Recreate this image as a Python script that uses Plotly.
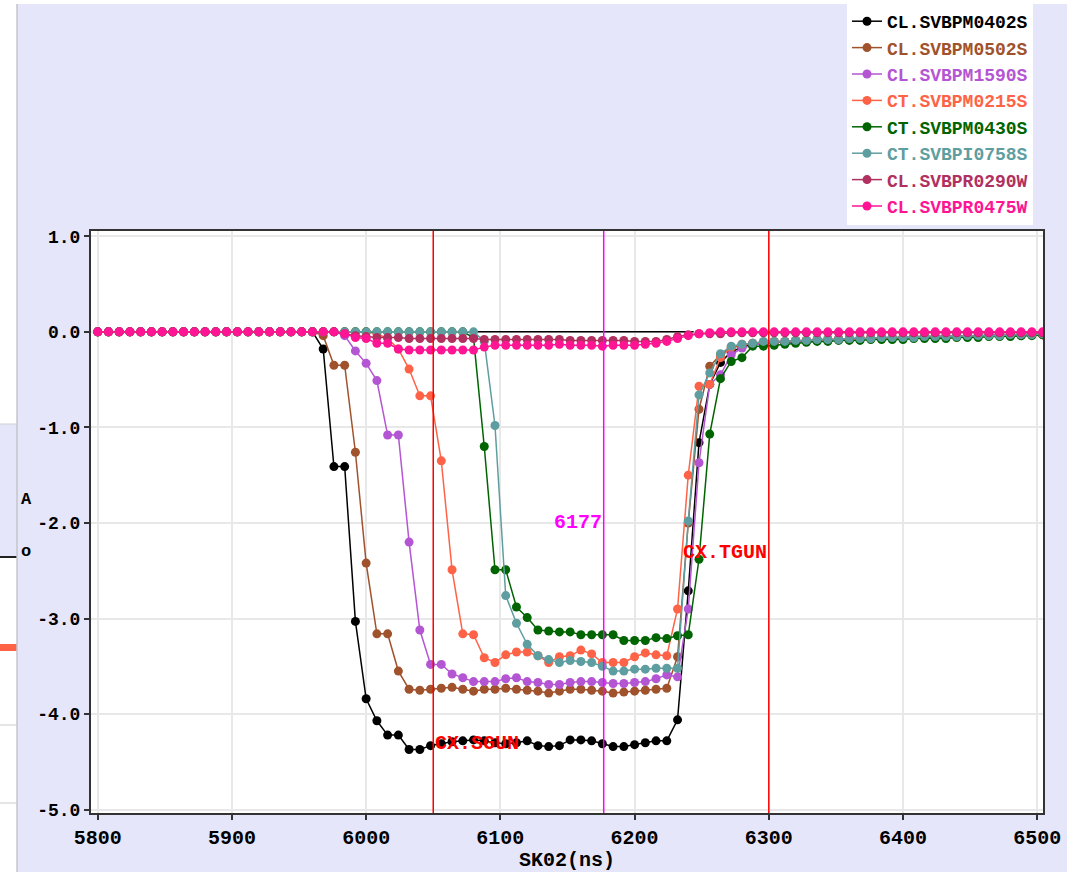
import plotly.graph_objects as go

# ---------------- data ----------------
x_ns = list(range(5800, 6505, 8))  # sample times (ns)

series_names = ["CL.SVBPM0402S", "CL.SVBPM0502S", "CL.SVBPM1590S", "CT.SVBPM0215S",
                "CT.SVBPM0430S", "CT.SVBPI0758S", "CL.SVBPR0290W", "CL.SVBPR0475W"]

v_0402S = [0.0] * 21 + [
    -0.18, -1.41, -1.41, -3.03, -3.84, -4.07, -4.22, -4.22, -4.37, -4.37,
    -4.33, -4.31, -4.29, -4.28, -4.27, -4.28, -4.30, -4.31, -4.30, -4.28,
    -4.33, -4.34, -4.33, -4.27, -4.27, -4.28, -4.31, -4.34, -4.34, -4.32,
    -4.30, -4.28, -4.28, -4.06, -2.71, -1.16, -0.55, -0.32, -0.21, -0.16,
    -0.13, -0.12, -0.11, -0.11, -0.10, -0.10, -0.09, -0.09, -0.08, -0.08,
    -0.08, -0.07, -0.07, -0.07, -0.06, -0.06, -0.06, -0.06, -0.05, -0.05,
    -0.05, -0.05, -0.04, -0.04, -0.04, -0.04, -0.03, -0.03]

v_0502S = [0.0] * 21 + [
    -0.04, -0.35, -0.35, -1.26, -2.42, -3.16, -3.16, -3.55, -3.74, -3.75,
    -3.74, -3.73, -3.72, -3.74, -3.76, -3.74, -3.74, -3.73, -3.74, -3.75,
    -3.76, -3.78, -3.76, -3.74, -3.74, -3.75, -3.76, -3.78, -3.77, -3.76,
    -3.75, -3.74, -3.73, -3.40, -2.00, -0.81, -0.36, -0.24, -0.17, -0.14,
    -0.12, -0.11, -0.10, -0.10, -0.09, -0.09, -0.08, -0.08, -0.08, -0.07,
    -0.07, -0.07, -0.06, -0.06, -0.06, -0.05, -0.05, -0.05, -0.05, -0.04,
    -0.04, -0.04, -0.04, -0.03, -0.03, -0.03, -0.03, -0.03]

v_1590S = [0.0] * 23 + [
    -0.04, -0.20, -0.33, -0.51, -1.08, -1.08, -2.20, -3.12,
    -3.48, -3.48, -3.58, -3.62, -3.66, -3.66, -3.66, -3.63, -3.62, -3.66,
    -3.67, -3.69, -3.69, -3.67, -3.66, -3.66, -3.67, -3.68, -3.68, -3.67,
    -3.66, -3.63, -3.59, -3.61, -2.90, -1.37, -0.55, -0.45, -0.24, -0.17,
    -0.14, -0.12, -0.11, -0.10, -0.10, -0.09, -0.09, -0.08, -0.08, -0.07,
    -0.07, -0.07, -0.06, -0.06, -0.06, -0.05, -0.05, -0.05, -0.04, -0.04,
    -0.04, -0.04, -0.03, -0.03, -0.03, -0.03, -0.02, -0.02]

v_0215S = [0.0] * 26 + [
    -0.02, -0.07, -0.18, -0.39, -0.67,
    -0.67, -1.35, -2.49, -3.16, -3.17, -3.41, -3.46, -3.38, -3.35, -3.35,
    -3.39, -3.46, -3.40, -3.39, -3.33, -3.37, -3.46, -3.46, -3.46, -3.40,
    -3.36, -3.38, -3.39, -2.90, -1.50, -0.57, -0.55, -0.27, -0.16, -0.13,
    -0.12, -0.11, -0.10, -0.10, -0.09, -0.09, -0.09, -0.08, -0.08, -0.08,
    -0.07, -0.07, -0.07, -0.06, -0.06, -0.06, -0.05, -0.05, -0.05, -0.05,
    -0.04, -0.04, -0.04, -0.04, -0.03, -0.03, -0.03, -0.03]

v_0430S = [0.0] * 35 + [
    -0.06, -1.20, -2.49, -2.49, -2.88, -2.99,
    -3.12, -3.13, -3.14, -3.14, -3.17, -3.17, -3.17, -3.17, -3.23, -3.23,
    -3.23, -3.20, -3.21, -3.18, -3.17, -2.38, -1.07, -0.49, -0.31, -0.27,
    -0.15, -0.15, -0.14, -0.13, -0.12, -0.11, -0.10, -0.10, -0.09, -0.09,
    -0.09, -0.08, -0.08, -0.08, -0.08, -0.07, -0.07, -0.07, -0.07, -0.06,
    -0.06, -0.06, -0.05, -0.05, -0.05, -0.04, -0.04, -0.03]

v_0758S = [0.0] * 36 + [
    -0.10, -0.98, -2.76, -3.05, -3.27,
    -3.39, -3.43, -3.46, -3.44, -3.45, -3.46, -3.50, -3.55, -3.55, -3.53,
    -3.53, -3.52, -3.52, -3.52, -1.98, -0.66, -0.43, -0.23, -0.15, -0.13,
    -0.12, -0.10, -0.10, -0.10, -0.09, -0.09, -0.08, -0.08, -0.08, -0.07,
    -0.07, -0.07, -0.06, -0.06, -0.06, -0.06, -0.05, -0.05, -0.05, -0.05,
    -0.04, -0.04, -0.04, -0.04, -0.03, -0.03, -0.03, -0.02]

v_0290W = [0.0] * 23 + [
    -0.02, -0.04, -0.05, -0.06, -0.06, -0.06, -0.07, -0.07,
    -0.07, -0.07, -0.07, -0.07, -0.07, -0.08, -0.08, -0.08, -0.08, -0.08,
    -0.08, -0.08, -0.08, -0.09, -0.09, -0.09, -0.09, -0.09, -0.09, -0.10,
    -0.10, -0.10, -0.08, -0.05, -0.03, -0.02, -0.02, -0.02, -0.01, -0.01] + [-0.01] * 28

v_0475W = [0.0] * 23 + [
    -0.02, -0.06, -0.07, -0.12, -0.12, -0.18, -0.19, -0.19,
    -0.19, -0.19, -0.19, -0.19, -0.19, -0.16, -0.14, -0.14, -0.14, -0.14,
    -0.14, -0.14, -0.13, -0.14, -0.14, -0.14, -0.15, -0.14, -0.14, -0.14,
    -0.13, -0.12, -0.10, -0.07, -0.04, -0.02, -0.01, 0.00, 0.00, 0.00] + [0.0] * 28

series_values = [v_0402S, v_0502S, v_1590S, v_0215S, v_0430S, v_0758S, v_0290W, v_0475W]

zero_seg_x = [6072, 6244]
zero_seg_y = [0.0, 0.0]

marker_lines = [("CX.SGUN", 6050), ("CX.TGUN", 6300)]
cursor_x = 6177

x_ticks = [5800, 5900, 6000, 6100, 6200, 6300, 6400, 6500]
y_ticks = [-5, -4, -3, -2, -1, 0, 1]
y_ticklabels = ["-5.0", "-4.0", "-3.0", "-2.0", "-1.0", "0.0", "1.0"]

# ---------------- style ----------------
colors = ["#000000", "#a0522d", "#b455d3", "#ff6347",
          "#006400", "#5f9ea0", "#b03060", "#ff1493"]
FONT = "Liberation Mono"
LAV = "#e6e6fa"

W, H = 1067, 872
L, R, T, B = 91, 1043, 231, 813
PW, PH = R - L, B - T


def px(xp):
    return (xp - L) / PW


def py(yp):
    return (B - yp) / PH


fig = go.Figure()

fig.add_trace(go.Scatter(x=zero_seg_x, y=zero_seg_y, mode="lines",
                         line=dict(color="#000000", width=1.5),
                         showlegend=False, hoverinfo="skip"))

for i, (nm, vals, c) in enumerate(zip(series_names, series_values, colors)):
    fig.add_trace(go.Scatter(
        x=x_ns, y=vals, mode="lines+markers",
        name=f'<span style="color:{c}">{nm}</span>',
        legendgroup=f"g{i}",
        line=dict(color=c, width=1.5),
        marker=dict(color=c, size=9),
    ))

shapes = []
# cursor / marker vertical lines
for _, xv in marker_lines:
    shapes.append(dict(type="line", xref="x", yref="paper", x0=xv, x1=xv, y0=0, y1=1,
                       line=dict(color="#ff0000", width=1.5), layer="above"))
shapes.append(dict(type="line", xref="x", yref="paper", x0=cursor_x, x1=cursor_x, y0=0, y1=1,
                   line=dict(color="#ff00ff", width=1.5), layer="above"))

# window-edge artefacts in the margins
shapes += [
    dict(type="rect", xref="paper", yref="paper", x0=px(0), x1=px(17), y0=py(872), y1=py(0),
         fillcolor="#ffffff", line=dict(width=0), layer="above"),
    dict(type="rect", xref="paper", yref="paper", x0=px(0), x1=px(W), y0=py(4), y1=py(0),
         fillcolor="#ffffff", line=dict(width=0), layer="above"),
    dict(type="rect", xref="paper", yref="paper", x0=px(0), x1=px(17), y0=py(557), y1=py(424),
         fillcolor=LAV, line=dict(width=0), layer="above"),
    dict(type="line", xref="paper", yref="paper", x0=px(0), x1=px(17), y0=py(424), y1=py(424),
         line=dict(color="#d0d0d8", width=1), layer="above"),
    dict(type="line", xref="paper", yref="paper", x0=px(0), x1=px(17), y0=py(557), y1=py(557),
         line=dict(color="#222222", width=2), layer="above"),
    dict(type="line", xref="paper", yref="paper", x0=px(0), x1=px(17), y0=py(725), y1=py(725),
         line=dict(color="#e6e6e6", width=2), layer="above"),
    dict(type="line", xref="paper", yref="paper", x0=px(0), x1=px(17), y0=py(803), y1=py(803),
         line=dict(color="#e6e6e6", width=2), layer="above"),
    dict(type="rect", xref="paper", yref="paper", x0=px(0), x1=px(17), y0=py(651), y1=py(644),
         fillcolor="#ff6347", line=dict(width=0), layer="above"),
    dict(type="line", xref="paper", yref="paper", x0=px(17), x1=px(17), y0=py(872), y1=py(4),
         line=dict(color="#c4c4cc", width=1.5), layer="above"),
]

annotations = [
    dict(x=cursor_x, y=-1.99, xref="x", yref="y", text=str(cursor_x), showarrow=False,
         xanchor="right", yanchor="middle",
         font=dict(family=FONT, size=20, color="#ff00ff", weight="bold")),
    dict(x=marker_lines[1][1], y=-2.31, xref="x", yref="y", text=marker_lines[1][0], showarrow=False,
         xanchor="right", yanchor="middle",
         font=dict(family=FONT, size=20, color="#ff0000", weight="bold")),
    dict(x=marker_lines[0][1], y=-4.31, xref="x", yref="y", text=marker_lines[0][0], showarrow=False,
         xanchor="left", yanchor="middle",
         font=dict(family=FONT, size=20, color="#ff0000", weight="bold")),
    dict(x=px(26), y=py(499), xref="paper", yref="paper", text="A", showarrow=False,
         xanchor="center", yanchor="middle",
         font=dict(family=FONT, size=17, color="#000000", weight="bold")),
    dict(x=px(26), y=py(551), xref="paper", yref="paper", text="o", showarrow=False,
         xanchor="center", yanchor="middle",
         font=dict(family=FONT, size=17, color="#000000", weight="bold")),
]

fig.update_layout(
    width=W, height=H,
    margin=dict(l=L, r=W - R, t=T, b=H - B, pad=0, autoexpand=False),
    paper_bgcolor=LAV, plot_bgcolor="#ffffff",
    showlegend=True,
    legend=dict(x=px(847), y=py(3), xanchor="left", yanchor="top",
                bgcolor="#ffffff", borderwidth=0, tracegroupgap=0,
                font=dict(family=FONT, size=18, color="#000000", weight="bold")),
    shapes=shapes, annotations=annotations,
    xaxis=dict(range=[5795, 6504.3], tickmode="array", tickvals=x_ticks,
               ticktext=[str(t) for t in x_ticks],
               showgrid=True, gridcolor="#e8e8e8", gridwidth=2, zeroline=False,
               showline=True, linecolor="#333333", linewidth=2, mirror=True,
               ticks="outside", ticklen=5, tickwidth=1.5, tickcolor="#333333",
               tickfont=dict(family=FONT, size=20, color="#000000", weight="bold"),
               title=dict(text="SK02(ns)", standoff=2,
                          font=dict(family=FONT, size=20, color="#000000", weight="bold")),
               automargin=False),
    yaxis=dict(range=[-5.035, 1.055], tickmode="array", tickvals=y_ticks, ticktext=y_ticklabels,
               showgrid=True, gridcolor="#e8e8e8", gridwidth=2, zeroline=False,
               showline=True, linecolor="#333333", linewidth=2, mirror=True,
               ticks="outside", ticklen=5, tickwidth=1.5, tickcolor="#333333",
               tickfont=dict(family=FONT, size=18, color="#000000", weight="bold"),
               automargin=False),
)

fig.write_html("out.html")
